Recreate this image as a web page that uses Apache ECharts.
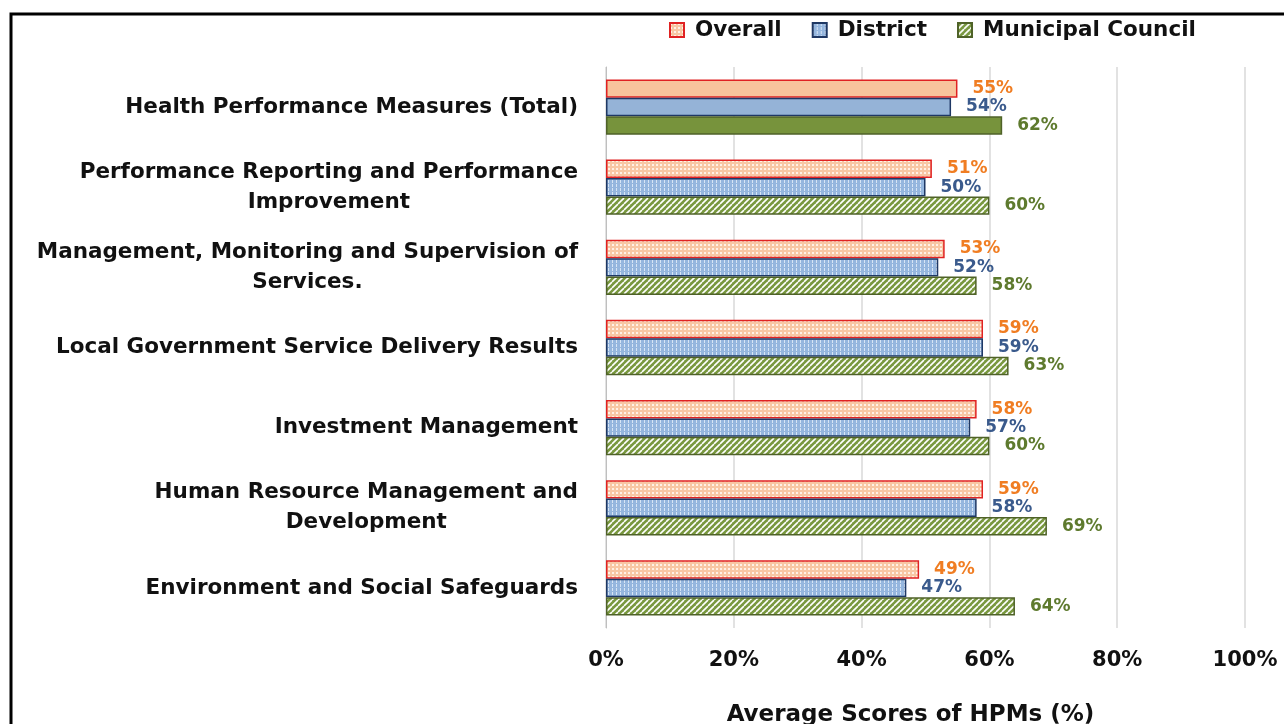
<!DOCTYPE html>
<html><head><meta charset="utf-8">
<script src="https://cdn.jsdelivr.net/npm/echarts@6/dist/echarts.min.js"></script>
<style>html,body{margin:0;padding:0;background:#fff}#c{width:1284px;height:724px}</style>
</head><body><div id="c"></div>
<script>
const categories = [
  'Health Performance Measures (Total)',
  'Performance Reporting and Performance\nImprovement',
  'Management, Monitoring and Supervision of\nServices.',
  'Local Government Service Delivery Results',
  'Investment Management',
  'Human Resource Management and\nDevelopment',
  'Environment and Social Safeguards'
];
const overall = [55, 51, 53, 59, 58, 59, 49];
const district = [54, 50, 52, 59, 57, 58, 47];
const municipal = [62, 60, 58, 63, 60, 69, 64];
const xTicks = [0, 20, 40, 60, 80, 100];

function pattern(kind) {
  const c = document.createElement('canvas');
  const ctx = c.getContext('2d');
  if (kind === 'dots') {
    c.width = 4; c.height = 4;
    ctx.fillStyle = '#F8C7A4'; ctx.fillRect(0, 0, 4, 4);
    ctx.fillStyle = '#FFF1E6'; ctx.fillRect(0, 0, 2, 2);
  } else if (kind === 'vlines') {
    c.width = 4; c.height = 4;
    ctx.fillStyle = '#95B6DE'; ctx.fillRect(0, 0, 4, 4);
    ctx.fillStyle = '#D7E5F5'; ctx.fillRect(0, 0, 1, 3);
  } else {
    c.width = 6; c.height = 6;
    ctx.fillStyle = '#79983F'; ctx.fillRect(0, 0, 6, 6);
    ctx.strokeStyle = '#FFFFFF'; ctx.lineWidth = 1.6;
    ctx.beginPath();
    for (let k = -6; k <= 12; k += 6) { ctx.moveTo(k, 6); ctx.lineTo(k + 6, 0); }
    ctx.stroke();
  }
  return { image: c, repeat: 'repeat' };
}

const FONT = 'DejaVu Sans';
function mk(name, vals, pat, solid, border, labelColor) {
  return {
    name: name, type: 'bar', barGap: '0%', barCategoryGap: '31%',
    itemStyle: { color: pattern(pat), borderColor: border, borderWidth: 1.5 },
    label: { show: true, position: 'right', distance: 15, formatter: '{c}%',
      color: labelColor, fontFamily: FONT, fontWeight: 'bold', fontSize: 17 },
    data: vals.map((v, i) => i === 0 ? { value: v, itemStyle: { color: solid } } : v)
  };
}

const chart = echarts.init(document.getElementById('c'));
chart.setOption({
  animation: false,
  backgroundColor: '#fff',
  grid: { left: 606, right: 39, top: 67, bottom: 96, containLabel: false, outerBoundsMode: 'none' },
  legend: {
    top: 14, left: 664, itemWidth: 14, itemHeight: 14, itemGap: 30, icon: 'rect',
    textStyle: { fontFamily: FONT, fontWeight: 'bold', fontSize: 21.5, color: '#111', padding: [0, 0, 0, 6] },
    data: ['Overall', 'District', 'Municipal Council']
  },
  xAxis: {
    type: 'value', min: 0, max: 100, interval: 20,
    name: 'Average Scores of HPMs (%)', nameLocation: 'middle', nameGap: 76,
    nameTextStyle: { fontFamily: FONT, fontWeight: 'bold', fontSize: 23, color: '#111', padding: [0, 30, 0, 0] },
    axisLabel: { margin: 22, formatter: v => xTicks.includes(v) ? v + '%' : '',
      fontFamily: FONT, fontWeight: 'bold', fontSize: 21, color: '#111' },
    axisLine: { show: false }, axisTick: { show: false },
    splitLine: { lineStyle: { color: '#D9D9D9', width: 1.5 } }
  },
  yAxis: {
    type: 'category', inverse: true, data: categories,
    axisLine: { show: true, lineStyle: { color: '#BFBFBF' } }, axisTick: { show: false },
    axisLabel: { margin: 28, align: 'right', lineHeight: 30,
      formatter: v => v.split('\n').map(s => '{c|' + s + '}').join('\n'),
      rich: { c: { align: 'center', fontFamily: FONT, fontWeight: 'bold', fontSize: 21.5, color: '#111', lineHeight: 30 } }
    }
  },
  graphic: [{ type: 'rect', shape: { x: 11, y: 14, width: 1400, height: 900 },
    style: { fill: 'none', stroke: '#000', lineWidth: 3 }, silent: true }],
  series: [
    mk('Overall', overall, 'dots', '#F8C49C', '#E02222', '#F07D22'),
    mk('District', district, 'vlines', '#95B3D7', '#1F3864', '#3A5A8C'),
    mk('Municipal Council', municipal, 'hatch', '#77933C', '#4F6228', '#5E7A2E')
  ]
});
</script></body></html>
